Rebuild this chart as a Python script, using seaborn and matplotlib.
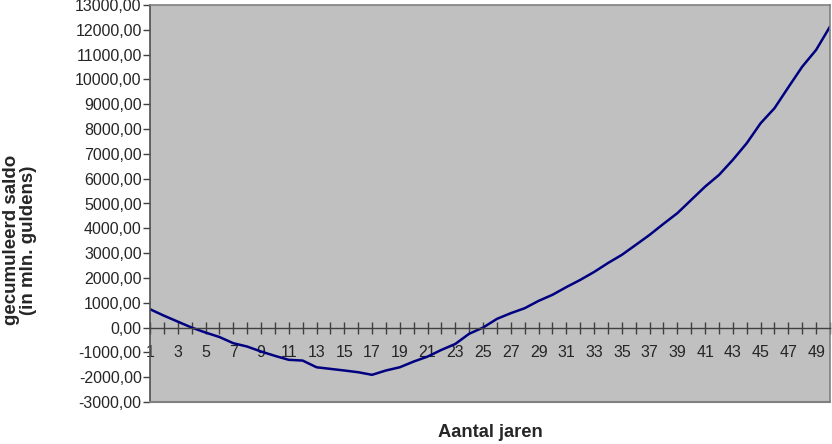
import matplotlib
matplotlib.use("Agg")
import matplotlib.pyplot as plt
import seaborn as sns
import pandas as pd
from matplotlib.ticker import FuncFormatter, FixedLocator

years = list(range(1, 51))
saldo = [740, 480, 240, 0, -200, -380, -630, -765, -965, -1140,
         -1300, -1330, -1600, -1665, -1730, -1800, -1905, -1730, -1600, -1370,
         -1170, -900, -660, -250, 0, 350, 580, 780, 1075, 1320,
         1630, 1920, 2240, 2600, 2930, 3330, 3735, 4180, 4610, 5145,
         5680, 6150, 6760, 7430, 8235, 8840, 9685, 10515, 11190, 12130]
y_ticks = list(range(-3000, 13001, 1000))
x_label_years = list(range(1, 51, 2))

sns.set_style("white")
plt.rcParams['font.family'] = ['Liberation Sans', 'DejaVu Sans']

fig = plt.figure(figsize=(8.32, 4.44), dpi=100)
ax = fig.add_axes([150/832, 1-402/444, 680/832, 397/444])
ax.set_facecolor('#c0c0c0')

df = pd.DataFrame({'jaar': years, 'saldo': saldo})
sns.lineplot(data=df, x='jaar', y='saldo', ax=ax, color='#000080', linewidth=1.8)

ax.set_xlim(1, 50)
ax.set_ylim(-3000, 13000)
ax.yaxis.set_major_locator(FixedLocator(y_ticks))
ax.yaxis.set_major_formatter(FuncFormatter(lambda v, p: f"{v:.2f}".replace('.', ',')))
ax.set_xticks(years)
ax.set_xticklabels([str(y) if y in x_label_years else '' for y in years])

for s in ['top', 'right']:
    ax.spines[s].set_color('#808080')
    ax.spines[s].set_linewidth(1.2)
ax.spines['left'].set_color('#505050')
ax.spines['left'].set_linewidth(1.2)
ax.spines['bottom'].set_position(('data', 0))
ax.spines['bottom'].set_color('#404040')
ax.spines['bottom'].set_linewidth(1.0)
ax.axhline(-3000, color='#808080', linewidth=1.5, clip_on=False, zorder=5)

ax.tick_params(axis='y', direction='out', length=5, width=1, color='#404040',
               labelsize=11.5, pad=1, left=True)
ax.tick_params(axis='x', direction='inout', length=9, width=1, color='#404040',
               labelsize=11.5, pad=8, bottom=True)

ax.set_xlabel('')
ax.set_ylabel('')
fig.text(490/832, 1-432/444, 'Aantal jaren', ha='center', va='center',
         fontsize=13.2, fontweight='bold')
fig.text(20/832, 1-240/444, 'gecumuleerd saldo\n(in mln. guldens)', ha='center',
         va='center', rotation=90, fontsize=13.5, fontweight='bold', linespacing=1.05)

fig.savefig('out.png', dpi=100)
